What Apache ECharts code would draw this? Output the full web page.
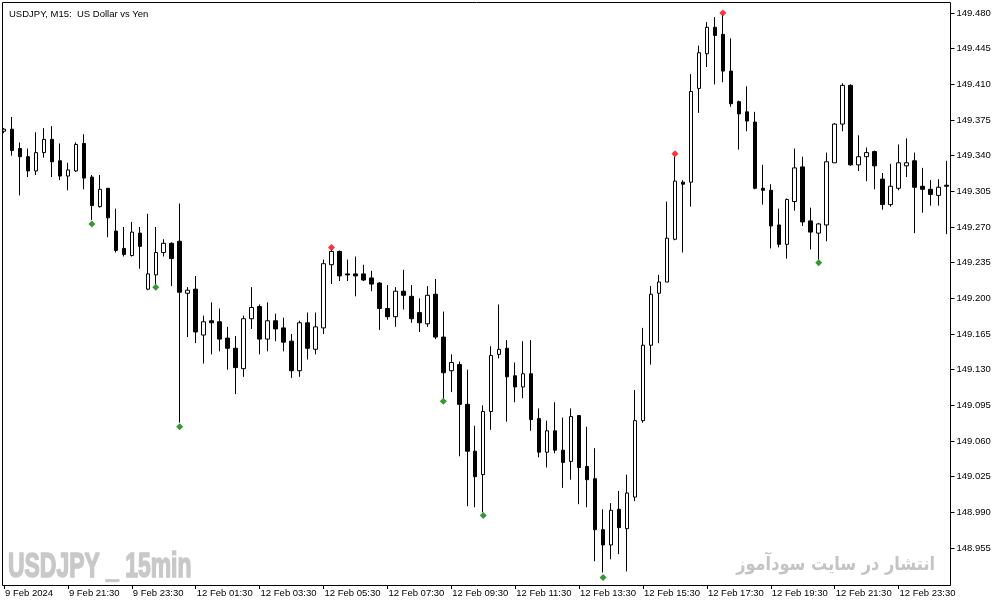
<!DOCTYPE html>
<html>
<head>
<meta charset="utf-8">
<script src="https://cdn.jsdelivr.net/npm/echarts@6/dist/echarts.min.js"></script>
<style>
html,body{margin:0;padding:0;background:#fff;}
#chart{width:1003px;height:605px;}
</style>
</head>
<body>
<div id="chart"></div>
<script>
// ---- DATA ----
const opens = [149.364,149.366,149.347,149.339,149.325,149.343,149.356,149.335,149.320,149.325,
149.352,149.319,149.290,149.308,149.266,149.249,149.242,149.264,149.209,149.223,
149.245,149.254,149.256,149.205,149.209,149.164,149.178,149.177,149.161,149.151,
149.131,149.180,149.192,149.160,149.178,149.171,149.158,149.129,149.176,149.150,
149.171,149.233,149.246,149.224,149.224,149.224,149.220,149.215,149.190,149.182,
149.207,149.202,149.186,149.175,149.204,149.162,149.129,149.135,149.096,149.050,
149.027,149.089,149.145,149.151,149.124,149.113,149.126,149.082,149.049,149.070,
149.051,149.040,149.085,149.035,149.023,148.973,148.958,148.993,148.974,149.005,
149.080,149.154,149.205,149.216,149.258,149.314,149.314,149.406,149.440,149.466,
149.459,149.423,149.393,149.383,149.373,149.308,149.306,149.272,149.253,149.295,
149.329,149.276,149.264,149.272,149.333,149.371,149.409,149.331,149.339,149.344,
149.317,149.292,149.308,149.330,149.335,149.310,149.307,149.301,149.311];
const highs = [149.367,149.378,149.353,149.347,149.363,149.367,149.369,149.352,149.333,149.353,
149.361,149.321,149.321,149.308,149.288,149.270,149.275,149.270,149.283,149.270,
149.258,149.255,149.293,149.211,149.222,149.183,149.196,149.190,149.172,149.163,
149.183,149.211,149.194,149.196,149.185,149.181,149.165,149.178,149.186,149.186,
149.238,149.248,149.247,149.238,149.241,149.233,149.227,149.216,149.213,149.211,
149.228,149.213,149.200,149.212,149.219,149.187,149.145,149.138,149.130,149.075,
149.095,149.153,149.194,149.159,149.137,149.158,149.159,149.092,149.080,149.098,
149.083,149.092,149.085,149.074,149.053,148.993,148.999,149.011,149.027,149.110,
149.171,149.212,149.223,149.295,149.339,149.316,149.420,149.448,149.471,149.476,
149.478,149.455,149.394,149.408,149.383,149.331,149.312,149.288,149.298,149.347,
149.339,149.289,149.274,149.343,149.372,149.411,149.410,149.360,149.348,149.345,
149.323,149.332,149.351,149.357,149.343,149.328,149.316,149.317,149.335];
const lows = [149.362,149.340,149.301,149.319,149.321,149.338,149.319,149.316,149.306,149.324,
149.307,149.277,149.289,149.260,149.245,149.241,149.241,149.229,149.208,149.214,
149.241,149.212,149.078,149.162,149.156,149.136,149.145,149.148,149.130,149.106,
149.123,149.170,149.145,149.148,149.158,149.148,149.122,149.123,149.140,149.145,
149.165,149.214,149.217,149.217,149.202,149.217,149.207,149.169,149.179,149.172,
149.189,149.176,149.167,149.172,149.160,149.102,149.108,149.045,148.996,148.995,
148.990,149.071,149.141,149.079,149.098,149.102,149.070,149.044,149.034,149.048,
149.014,149.022,148.998,148.995,148.942,148.931,148.944,148.949,148.932,149.001,
149.078,149.135,149.156,149.216,149.257,149.245,149.290,149.382,149.427,149.410,
149.412,149.388,149.346,149.364,149.307,149.292,149.249,149.250,149.239,149.286,
149.271,149.248,149.238,149.256,149.333,149.364,149.330,149.325,149.315,149.307,
149.287,149.290,149.306,149.319,149.264,149.284,149.291,149.291,149.263];
const closes = [149.366,149.345,149.339,149.325,149.343,149.356,149.334,149.320,149.326,149.351,
149.318,149.291,149.307,149.279,149.247,149.243,149.265,149.251,149.224,149.245,
149.254,149.239,149.206,149.208,149.167,149.177,149.176,149.160,149.151,149.132,
149.180,149.191,149.160,149.178,149.170,149.157,149.129,149.176,149.151,149.172,
149.234,149.246,149.222,149.223,149.222,149.218,149.214,149.190,149.182,149.207,
149.203,149.180,149.176,149.203,149.162,149.127,149.137,149.096,149.050,149.025,
149.089,149.144,149.150,149.123,149.113,149.126,149.081,149.049,149.070,149.051,
149.039,149.084,149.034,149.022,148.973,148.958,148.992,148.975,149.009,149.080,
149.154,149.204,149.216,149.259,149.315,149.312,149.403,149.441,149.466,149.458,
149.423,149.391,149.381,149.374,149.308,149.306,149.271,149.253,149.297,149.328,
149.275,149.265,149.273,149.334,149.371,149.409,149.331,149.339,149.343,149.330,
149.292,149.310,149.333,149.333,149.309,149.307,149.302,149.309,149.310];

// fractal-style markers
const lowMarkIdx  = [11, 19, 22, 55, 60, 75, 102];
const lowMarkVal  = [149.273, 149.211, 149.074, 149.099, 148.987, 148.926, 149.235];
const highMarkIdx = [41, 84, 90];
const highMarkVal = [149.250, 149.342, 149.480];

// axis labels
const timeLabels = ['9 Feb 2024','9 Feb 21:30','9 Feb 23:30','12 Feb 01:30','12 Feb 03:30',
  '12 Feb 05:30','12 Feb 07:30','12 Feb 09:30','12 Feb 11:30','12 Feb 13:30','12 Feb 15:30',
  '12 Feb 17:30','12 Feb 19:30','12 Feb 21:30','12 Feb 23:30'];
const priceTicks = [148.955,148.990,149.025,149.060,149.095,149.130,149.165,149.200,
  149.235,149.270,149.305,149.340,149.375,149.410,149.445,149.480];
const LABEL_EVERY = 8;
const yMin = 148.9187, yMax = 149.4908;

// ---- build ----
const categories = opens.map((_, i) => 'bar' + i);
const candleData = opens.map((o, i) => [o, closes[i], lows[i], highs[i]]);
const lowMarks = lowMarkIdx.map((k, i) => [k, lowMarkVal[i]]);
const highMarks = highMarkIdx.map((k, i) => [k, highMarkVal[i]]);

const FONT = 'Liberation Sans';
const chart = echarts.init(document.getElementById('chart'), null, {renderer: 'canvas'});
chart.setOption({
  animation: false,
  backgroundColor: '#ffffff',
  title: {
    text: 'USDJPY, M15:  US Dollar vs Yen',
    left: 4, top: 4,
    textStyle: {fontFamily: FONT, fontSize: 9.5, fontWeight: 'normal', color: '#000'}
  },
  grid: {left: -1.5, right: 52.5, top: 2, bottom: 20, containLabel: false},
  xAxis: {
    type: 'category',
    data: categories,
    boundaryGap: true,
    axisLine: {show: false},
    axisTick: {show: true, alignWithLabel: true, length: 4, lineStyle: {color: '#000'},
      interval: (i) => i % LABEL_EVERY === 0},
    axisLabel: {
      show: true,
      interval: (i) => i % LABEL_EVERY === 0,
      formatter: (v, i) => timeLabels[i / LABEL_EVERY] || '',
      align: 'left',
      margin: 3,
      padding: [0, 0, 0, 1],
      fontFamily: FONT, fontSize: 9.5, color: '#000'
    },
    splitLine: {show: false}
  },
  yAxis: {
    type: 'value',
    position: 'right',
    min: yMin, max: yMax,
    scale: true,
    axisLine: {show: false},
    axisTick: {show: true, length: 4, inside: false, lineStyle: {color: '#000'}, customValues: priceTicks},
    axisLabel: {show: true, customValues: priceTicks, margin: 6,
      formatter: (v) => v.toFixed(3),
      fontFamily: FONT, fontSize: 9.5, color: '#000'},
    splitLine: {show: false}
  },
  series: [
    {
      type: 'candlestick',
      data: candleData,
      barWidth: 4,
      itemStyle: {color: '#ffffff', color0: '#000000', borderColor: '#000000', borderColor0: '#000000', borderWidth: 1},
      z: 2
    },
    {
      type: 'scatter', data: lowMarks, symbol: 'diamond', symbolSize: 7,
      itemStyle: {color: '#008000'}, z: 3
    },
    {
      type: 'scatter', data: highMarks, symbol: 'diamond', symbolSize: 7,
      itemStyle: {color: '#ff0000'}, z: 3
    }
  ],
  graphic: [
    {type: 'rect', shape: {x: 2.5, y: 2.5, width: 948, height: 583}, style: {fill: null, stroke: '#000', lineWidth: 1}, z: 100, silent: true},
    {type: 'text', x: 8, y: 550, scaleX: 0.655, z: 50, silent: true,
      style: {text: 'USDJPY _ 15min', fontFamily: FONT, fontWeight: 'bold', fontSize: 35, fill: '#c8c8c8',
        stroke: '#c8c8c8', lineWidth: 1.6, textAlign: 'left', textVerticalAlign: 'top'}},
    {type: 'text', x: 935, y: 565, scaleX: 0.85, z: 50, silent: true,
      style: {text: 'انتشار در سایت سودآموز', fontFamily: 'DejaVu Sans', fontWeight: 'bold', fontSize: 19, fill: '#c4c4c4', textAlign: 'right', textVerticalAlign: 'middle'}}
  ]
});
</script>
</body>
</html>
